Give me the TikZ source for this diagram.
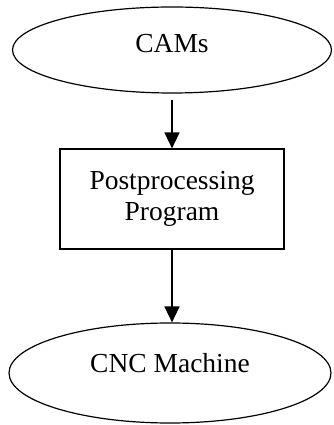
\documentclass[tikz,border=0pt]{standalone}
\usepackage{fontspec}
\setmainfont{Liberation Serif}
\usetikzlibrary{arrows.meta,positioning,shapes.geometric}

\begin{document}
\begin{tikzpicture}[x=1pt,y=1pt,
    ellbox/.style={ellipse,draw,line width=1.2pt,inner sep=0pt,
      font=\fontsize{27.5}{31.5}\selectfont,text depth=14pt},
    procbox/.style={rectangle,draw,line width=1.2pt,inner sep=0pt,
      minimum width=224pt,minimum height=100pt,align=center,
      font=\fontsize{27.5}{31.5}\selectfont},
    flowarrow/.style={line width=1.5pt,-{Triangle[length=16pt,width=15pt]}}]

  % frame of the picture
  \useasboundingbox (0,0) rectangle (333,425);

  % the three stages
  \node[ellbox,minimum width=319pt,minimum height=86pt] (cams) at (172,375) {CAMs};
  \node[procbox] (postproc) at (172,226) {Postprocessing\\Program};
  \node[ellbox,minimum width=322pt,minimum height=100pt,text depth=20pt] (cnc) at (170,52) {CNC Machine};

  % arrows between stages
  \draw[flowarrow,shorten <=6pt] (cams.south) -- (postproc.north);
  \draw[flowarrow] (postproc.south) -- (postproc.south |- cnc.north);

\end{tikzpicture}
\end{document}
